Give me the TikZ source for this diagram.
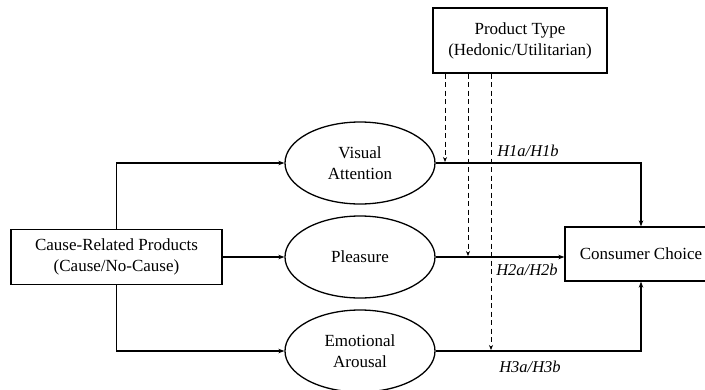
\documentclass[tikz,border=0pt]{standalone}
\usepackage{fontspec}
\setmainfont{Liberation Serif}
\usetikzlibrary{shapes.geometric,arrows.meta}
\begin{document}
\begin{tikzpicture}[x=1pt,y=-1pt,
  every node/.style={font=\fontsize{17}{21}\selectfont, align=center, inner sep=0pt},
  boxnode/.style={draw, line width=1.3pt, rectangle},
  ellnode/.style={draw, line width=1.3pt, ellipse, minimum width=150pt, minimum height=82pt},
  arr/.style={line width=1.5pt, -{Stealth[length=6pt,width=4.5pt]}},
  dasharr/.style={line width=1pt, dash pattern=on 5pt off 3.5pt, -{Stealth[length=5pt,width=4pt]}, shorten >=1pt},
  hyp/.style={font=\fontsize{16.5}{19}\selectfont\itshape}
]
\clip (0,0) rectangle (705,389);
\useasboundingbox (0,0) rectangle (705,389);
\fill[white] (0,0) rectangle (705,389);

\node[boxnode, minimum width=174pt, minimum height=65pt] (pt) at (520,40.5) {Product Type\\(Hedonic/Utilitarian)};
\node[boxnode, minimum width=211pt, minimum height=55pt] (cause) at (116.5,257) {Cause-Related Products\\(Cause/No-Cause)};
\node[boxnode, minimum width=152pt, minimum height=54pt] (cc) at (641,254) {Consumer Choice};

\node[ellnode] (va) at (360,163) {Visual\\Attention};
\node[ellnode] (pl) at (360,257) {Pleasure};
\node[ellnode] (ea) at (360,351) {Emotional\\Arousal};

\draw[arr] (cause.north) |- (va.west);
\draw[arr] (cause.east |- pl.west) -- (pl.west);
\draw[arr] (cause.south) |- (ea.west);

\draw[arr] (va.east) -| (cc.north);
\draw[arr] (pl.east) -- (cc.west |- pl.east);
\draw[arr] (ea.east) -| (cc.south);

\draw[dasharr] ([xshift=-75pt]pt.south) -- ([xshift=-75pt]pt.south |- va.east);
\draw[dasharr] ([xshift=-52pt]pt.south) -- ([xshift=-52pt]pt.south |- pl.east);
\draw[dasharr] ([xshift=-29pt]pt.south) -- ([xshift=-29pt]pt.south |- ea.east);

\node[hyp] (h1) at (528,151) {H1a/H1b};
\node[hyp] (h2) at (527,270) {H2a/H2b};
\node[hyp] (h3) at (530,367) {H3a/H3b};
\end{tikzpicture}
\end{document}
